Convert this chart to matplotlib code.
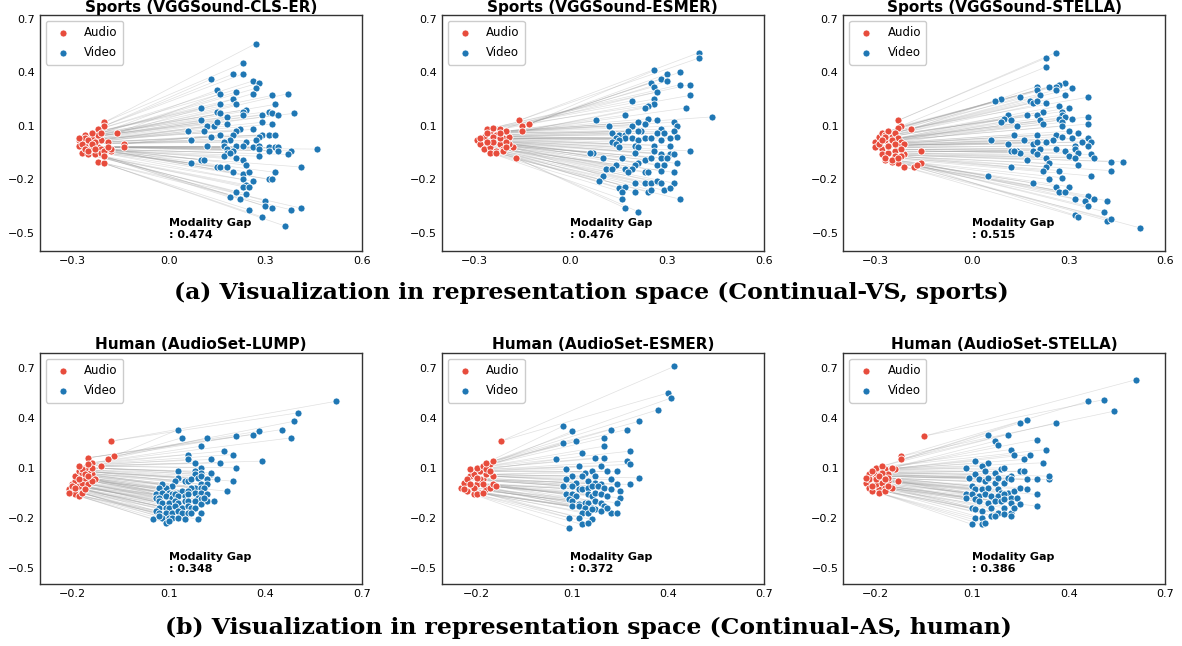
import numpy as np
import matplotlib
matplotlib.use("Agg")
import matplotlib.pyplot as plt
from matplotlib.collections import LineCollection

# ---- data ----
titles = ["Sports (VGGSound-CLS-ER)", "Sports (VGGSound-ESMER)", "Sports (VGGSound-STELLA)",
          "Human (AudioSet-LUMP)", "Human (AudioSet-ESMER)", "Human (AudioSet-STELLA)"]
gaps = ["0.474", "0.476", "0.515", "0.348", "0.372", "0.386"]
captions = ["(a) Visualization in representation space (Continual-VS, sports)",
            "(b) Visualization in representation space (Continual-AS, human)"]

sports_xticks = [-0.3, 0.0, 0.3, 0.6]
human_xticks = [-0.2, 0.1, 0.4, 0.7]
yticks = [-0.5, -0.2, 0.1, 0.4, 0.7]

# Sports / CLS-ER
cls_video_x = [0.27, 0.23, 0.20, 0.23, 0.13, 0.26, 0.28, 0.15, 0.27, 0.21,
               0.16, 0.26, 0.37, 0.32, 0.20, 0.21, 0.16, 0.33, 0.10, 0.24,
               0.23, 0.15, 0.16, 0.18, 0.23, 0.29, 0.31, 0.32, 0.34, 0.39,
               0.10, 0.29, 0.32, 0.12, 0.14, 0.15, 0.18, 0.06, 0.11, 0.22,
               0.26, 0.21, 0.29, 0.31, 0.33, 0.07, 0.13, 0.16, 0.20, 0.28,
               0.27, 0.19, 0.17, 0.24, 0.12, 0.17, 0.21, 0.23, 0.26, 0.28,
               0.31, 0.33, 0.34, 0.18, 0.18, 0.20, 0.28, 0.31, 0.34, 0.46,
               0.38, 0.37, 0.17, 0.19, 0.28, 0.07, 0.10, 0.11, 0.21, 0.23,
               0.15, 0.16, 0.18, 0.24, 0.41, 0.20, 0.23, 0.25, 0.33, 0.31,
               0.32, 0.23, 0.26, 0.24, 0.23, 0.25, 0.21, 0.24, 0.19, 0.22,
               0.30, 0.30, 0.32, 0.25, 0.38, 0.41, 0.29, 0.36]
cls_video_y = [0.56, 0.45, 0.39, 0.39, 0.36, 0.35, 0.34, 0.30, 0.31, 0.29,
               0.28, 0.28, 0.28, 0.27, 0.25, 0.22, 0.22, 0.22, 0.20, 0.19,
               0.18, 0.18, 0.17, 0.15, 0.16, 0.16, 0.18, 0.17, 0.16, 0.17,
               0.13, 0.12, 0.11, 0.10, 0.10, 0.12, 0.11, 0.07, 0.07, 0.08,
               0.08, 0.07, 0.05, 0.05, 0.05, 0.02, 0.04, 0.05, 0.05, 0.04,
               0.02, 0.02, 0.01, 0.01, -0.01, -0.01, -0.01, -0.01, -0.02, -0.01,
               -0.02, -0.02, -0.02, -0.03, -0.05, -0.04, -0.03, -0.04, -0.04, -0.03,
               -0.04, -0.06, -0.07, -0.05, -0.07, -0.11, -0.09, -0.09, -0.08, -0.09,
               -0.13, -0.13, -0.13, -0.12, -0.13, -0.16, -0.17, -0.16, -0.16, -0.20,
               -0.20, -0.20, -0.21, -0.23, -0.24, -0.24, -0.27, -0.28, -0.30, -0.31,
               -0.32, -0.35, -0.36, -0.37, -0.37, -0.36, -0.41, -0.46]
cls_audio_x = [-0.20, -0.20, -0.22, -0.16, -0.14, -0.14, -0.26, -0.24, -0.28, -0.26,
               -0.22, -0.21, -0.19, -0.28, -0.26, -0.24, -0.22, -0.21, -0.18, -0.27,
               -0.25, -0.23, -0.21, -0.20, -0.18, -0.22, -0.20, -0.20, -0.25, -0.23,
               -0.27, -0.24, -0.22, -0.26, -0.25, -0.23, -0.28, -0.24, -0.21, -0.19]
cls_audio_y = [0.12, 0.10, 0.08, 0.06, 0.00, -0.02, 0.05, 0.04, 0.02, 0.03,
               0.03, 0.02, 0.01, -0.01, -0.01, -0.02, -0.02, -0.03, -0.04, -0.05,
               -0.06, -0.06, -0.05, -0.04, -0.03, -0.10, -0.11, -0.07, 0.02, 0.01,
               0.00, 0.00, 0.05, -0.03, -0.04, -0.03, 0.03, 0.06, 0.06, -0.02]

# Sports / ESMER
esmer_s_video_x = [0.40, 0.40, 0.26, 0.30, 0.34, 0.28, 0.30, 0.25, 0.34, 0.37,
                   0.26, 0.27, 0.19, 0.26, 0.37, 0.26, 0.24, 0.23, 0.36, 0.17,
                   0.44, 0.08, 0.24, 0.27, 0.21, 0.32, 0.33, 0.12, 0.19, 0.23,
                   0.22, 0.28, 0.32, 0.13, 0.15, 0.17, 0.18, 0.21, 0.27, 0.29,
                   0.33, 0.14, 0.17, 0.19, 0.21, 0.23, 0.25, 0.28, 0.31, 0.13,
                   0.15, 0.14, 0.26, 0.20, 0.21, 0.15, 0.31, 0.07, 0.26, 0.20,
                   0.28, 0.31, 0.32, 0.37, 0.10, 0.16, 0.23, 0.25, 0.28, 0.30,
                   0.14, 0.21, 0.20, 0.27, 0.29, 0.33, 0.11, 0.13, 0.17, 0.19,
                   0.18, 0.23, 0.24, 0.28, 0.32, 0.10, 0.09, 0.20, 0.23, 0.25,
                   0.27, 0.28, 0.32, 0.15, 0.17, 0.20, 0.24, 0.25, 0.29, 0.31,
                   0.16, 0.16, 0.34, 0.17, 0.21, 0.06]
esmer_s_video_y = [0.51, 0.48, 0.41, 0.39, 0.40, 0.36, 0.35, 0.34, 0.33, 0.33,
                   0.32, 0.29, 0.24, 0.25, 0.27, 0.22, 0.21, 0.20, 0.20, 0.16,
                   0.15, 0.13, 0.14, 0.13, 0.12, 0.12, 0.10, 0.10, 0.10, 0.11,
                   0.07, 0.08, 0.07, 0.06, 0.05, 0.05, 0.07, 0.07, 0.06, 0.06,
                   0.04, 0.03, 0.03, 0.03, 0.02, 0.03, 0.03, 0.02, 0.03, 0.01,
                   0.02, 0.00, -0.01, -0.01, -0.02, -0.02, -0.01, -0.05, -0.04, -0.05,
                   -0.06, -0.06, -0.06, -0.04, -0.08, -0.08, -0.09, -0.08, -0.08, -0.08,
                   -0.12, -0.11, -0.12, -0.12, -0.12, -0.11, -0.14, -0.14, -0.14, -0.14,
                   -0.16, -0.16, -0.16, -0.15, -0.16, -0.18, -0.21, -0.22, -0.22, -0.22,
                   -0.21, -0.22, -0.22, -0.25, -0.24, -0.27, -0.27, -0.26, -0.26, -0.25,
                   -0.27, -0.31, -0.31, -0.36, -0.38, -0.05]
esmer_s_audio_x = [-0.16, -0.15, -0.13, -0.15, -0.17, -0.18,
                   -0.29, -0.28, -0.27, -0.26, -0.25, -0.24, -0.23, -0.22, -0.21, -0.20,
                   -0.19, -0.27, -0.25, -0.23, -0.21, -0.19, -0.26, -0.24, -0.22, -0.20,
                   -0.28, -0.26, -0.24, -0.22, -0.20, -0.25, -0.23, -0.21, -0.24, -0.22,
                   -0.26, -0.20]
esmer_s_audio_y = [0.13, 0.10, 0.11, 0.07, -0.08, -0.02,
                   0.02, 0.00, 0.04, -0.01, 0.06, 0.02, 0.05, 0.00, 0.03, 0.07,
                   0.04, -0.03, -0.02, -0.04, -0.03, 0.00, 0.08, 0.09, 0.08, 0.07,
                   0.03, 0.06, 0.04, 0.03, 0.01, -0.05, -0.05, -0.04, 0.01, 0.06,
                   0.01, -0.02]

# Sports / STELLA
stella_s_video_x = [0.26, 0.23, 0.23, 0.29, 0.27, 0.26, 0.24, 0.20, 0.31, 0.20,
                    0.26, 0.36, 0.29, 0.21, 0.15, 0.09, 0.07, 0.18, 0.19, 0.20,
                    0.23, 0.27, 0.30, 0.28, 0.22, 0.17, 0.20, 0.28, 0.11, 0.10,
                    0.29, 0.27, 0.36, 0.09, 0.12, 0.21, 0.22, 0.31, 0.28, 0.36,
                    0.14, 0.28, 0.30, 0.33, 0.13, 0.20, 0.26, 0.28, 0.25, 0.23,
                    0.31, 0.36, 0.37, 0.06, 0.11, 0.16, 0.19, 0.20, 0.36, 0.34,
                    0.32, 0.12, 0.14, 0.15, 0.13, 0.19, 0.21, 0.26, 0.29, 0.32,
                    0.20, 0.33, 0.37, 0.17, 0.30, 0.38, 0.23, 0.24, 0.32, 0.43,
                    0.47, 0.12, 0.33, 0.23, 0.22, 0.27, 0.43, 0.05, 0.28, 0.37,
                    0.24, 0.19, 0.26, 0.30, 0.27, 0.29, 0.36, 0.32, 0.35, 0.38,
                    0.42, 0.36, 0.41, 0.32, 0.33, 0.42, 0.43, 0.52]
stella_s_video_y = [0.51, 0.48, 0.43, 0.34, 0.33, 0.32, 0.32, 0.32, 0.31, 0.30,
                    0.30, 0.26, 0.27, 0.27, 0.26, 0.25, 0.24, 0.24, 0.23, 0.24,
                    0.23, 0.21, 0.20, 0.18, 0.18, 0.16, 0.16, 0.16, 0.16, 0.14,
                    0.15, 0.14, 0.15, 0.12, 0.13, 0.13, 0.11, 0.14, 0.12, 0.11,
                    0.10, 0.10, 0.07, 0.06, 0.05, 0.05, 0.05, 0.04, 0.02, 0.01,
                    0.03, 0.03, 0.01, 0.02, 0.00, 0.02, 0.00, 0.01, -0.01, 0.01,
                    -0.01, -0.04, -0.04, -0.05, -0.04, -0.04, -0.03, -0.03, -0.04, -0.03,
                    -0.06, -0.05, -0.06, -0.09, -0.07, -0.08, -0.08, -0.11, -0.08, -0.10,
                    -0.10, -0.13, -0.12, -0.13, -0.15, -0.15, -0.15, -0.18, -0.19, -0.18,
                    -0.20, -0.22, -0.24, -0.24, -0.27, -0.27, -0.29, -0.31, -0.32, -0.31,
                    -0.32, -0.35, -0.38, -0.40, -0.41, -0.43, -0.42, -0.47]
stella_s_audio_x = [-0.23, -0.22, -0.23, -0.19, -0.16, -0.16, -0.18, -0.17, -0.21, -0.23,
                    -0.25, -0.27, -0.21,
                    -0.30, -0.29, -0.28, -0.27, -0.26, -0.25, -0.24, -0.23, -0.22,
                    -0.29, -0.27, -0.25, -0.23, -0.21, -0.28, -0.26, -0.24, -0.22,
                    -0.30, -0.28, -0.26, -0.24, -0.22, -0.29, -0.27, -0.25, -0.23,
                    -0.27, -0.25, -0.28, -0.24, -0.26]
stella_s_audio_y = [0.13, 0.10, 0.09, 0.08, -0.04, -0.11, -0.13, -0.12, -0.13, -0.11,
                    -0.10, -0.09, -0.06,
                    0.01, 0.04, 0.06, 0.05, 0.07, 0.04, 0.06, 0.03, 0.01,
                    -0.01, 0.02, 0.01, -0.01, 0.00, -0.03, -0.02, -0.04, -0.03,
                    -0.02, -0.06, -0.05, -0.07, -0.07, 0.00, -0.08, -0.09, -0.08,
                    0.04, 0.02, 0.02, 0.00, -0.01]

# Human / LUMP
lump_video_x = [0.62, 0.50, 0.49, 0.13, 0.38, 0.36, 0.45, 0.48, 0.14, 0.22,
                0.31, 0.20, 0.27, 0.30, 0.16, 0.16, 0.23, 0.18, 0.26, 0.39,
                0.31, 0.13, 0.20, 0.18, 0.20, 0.18, 0.23, 0.23, 0.13, 0.15,
                0.16, 0.12, 0.17, 0.19, 0.20, 0.22, 0.25, 0.30, 0.20, 0.22,
                0.11, 0.09, 0.08, 0.07, 0.18, 0.17, 0.20, 0.21, 0.28, 0.06,
                0.08, 0.10, 0.11, 0.13, 0.14, 0.16, 0.18, 0.20, 0.22, 0.06,
                0.07, 0.09, 0.11, 0.12, 0.13, 0.15, 0.16, 0.19, 0.20, 0.22,
                0.24, 0.07, 0.08, 0.10, 0.12, 0.13, 0.15, 0.16, 0.18, 0.20,
                0.21, 0.07, 0.09, 0.10, 0.12, 0.14, 0.16, 0.17, 0.18, 0.06,
                0.07, 0.09, 0.11, 0.13, 0.14, 0.16, 0.17, 0.20, 0.05, 0.08,
                0.10, 0.11, 0.13, 0.15, 0.19, 0.09, 0.10, 0.07]
lump_video_y = [0.50, 0.43, 0.38, 0.33, 0.32, 0.30, 0.33, 0.28, 0.28, 0.28,
                0.29, 0.23, 0.20, 0.18, 0.18, 0.15, 0.15, 0.13, 0.13, 0.14,
                0.10, 0.08, 0.10, 0.08, 0.07, 0.06, 0.06, 0.07, 0.04, 0.02,
                0.02, 0.02, 0.03, 0.04, 0.05, 0.03, 0.03, 0.02, 0.00, 0.00,
                -0.01, -0.02, 0.00, -0.02, -0.02, -0.02, -0.02, -0.02, -0.04, -0.06,
                -0.05, -0.05, -0.06, -0.05, -0.04, -0.04, -0.05, -0.05, -0.06, -0.08,
                -0.08, -0.07, -0.08, -0.06, -0.07, -0.07, -0.06, -0.08, -0.09, -0.10,
                -0.10, -0.10, -0.11, -0.11, -0.10, -0.11, -0.10, -0.10, -0.10, -0.12,
                -0.08, -0.14, -0.14, -0.14, -0.13, -0.14, -0.13, -0.14, -0.14, -0.16,
                -0.17, -0.17, -0.17, -0.16, -0.17, -0.17, -0.17, -0.17, -0.21, -0.20,
                -0.20, -0.20, -0.20, -0.21, -0.21, -0.23, -0.22, -0.19]
lump_audio_x = [-0.08, -0.07, -0.09, -0.11, -0.15, -0.14,
                -0.21, -0.20, -0.19, -0.18, -0.17, -0.16, -0.15, -0.14, -0.13, -0.20,
                -0.19, -0.18, -0.17, -0.16, -0.15, -0.14, -0.19, -0.18, -0.17, -0.16,
                -0.15, -0.17, -0.16, -0.15, -0.14, -0.18, -0.20, -0.21, -0.19, -0.17,
                -0.16, -0.18, -0.15]
lump_audio_y = [0.26, 0.17, 0.15, 0.11, 0.16, 0.13,
                -0.03, -0.04, -0.06, -0.07, -0.03, -0.01, 0.03, 0.06, 0.03, 0.00,
                0.02, -0.01, 0.01, 0.04, 0.08, 0.10, 0.05, 0.08, 0.07, 0.10,
                0.12, 0.09, 0.06, 0.00, 0.02, 0.03, -0.01, -0.05, -0.02, -0.05,
                -0.03, 0.11, 0.05]

# Human / ESMER
esmer_h_video_x = [0.42, 0.40, 0.41, 0.37, 0.31, 0.07, 0.10, 0.22, 0.27, 0.20,
                   0.07, 0.11, 0.20, 0.13, 0.28, 0.05, 0.17, 0.20, 0.27, 0.28,
                   0.12, 0.19, 0.08, 0.16, 0.21, 0.24, 0.14, 0.10, 0.13, 0.17,
                   0.22, 0.31, 0.08, 0.11, 0.15, 0.17, 0.19, 0.24, 0.07, 0.10,
                   0.12, 0.13, 0.15, 0.16, 0.18, 0.20, 0.22, 0.28, 0.25, 0.08,
                   0.10, 0.11, 0.15, 0.16, 0.17, 0.19, 0.21, 0.25, 0.24, 0.09,
                   0.10, 0.12, 0.14, 0.15, 0.17, 0.19, 0.20, 0.22, 0.24, 0.10,
                   0.12, 0.14, 0.16, 0.17, 0.19, 0.21, 0.13, 0.15, 0.16, 0.09,
                   0.12, 0.16, 0.13, 0.15, 0.09]
esmer_h_video_y = [0.71, 0.55, 0.52, 0.45, 0.38, 0.35, 0.32, 0.33, 0.33, 0.28,
                   0.25, 0.26, 0.23, 0.19, 0.20, 0.15, 0.16, 0.16, 0.14, 0.12,
                   0.11, 0.11, 0.09, 0.08, 0.08, 0.08, 0.07, 0.05, 0.05, 0.05,
                   0.03, 0.04, 0.03, 0.01, 0.02, 0.01, 0.00, 0.00, -0.01, -0.01,
                   -0.03, -0.03, -0.02, -0.01, -0.01, -0.02, -0.03, 0.00, -0.04, -0.06,
                   -0.06, -0.07, -0.06, -0.07, -0.05, -0.06, -0.07, -0.08, -0.11, -0.09,
                   -0.10, -0.12, -0.11, -0.11, -0.10, -0.11, -0.13, -0.17, -0.17, -0.13,
                   -0.13, -0.14, -0.14, -0.15, -0.16, -0.14, -0.17, -0.17, -0.15, -0.20,
                   -0.20, -0.21, -0.24, -0.23, -0.26]
esmer_h_audio_x = [-0.125,
                   -0.25, -0.24, -0.23, -0.22, -0.21, -0.20, -0.19, -0.18, -0.17, -0.16,
                   -0.15, -0.14, -0.23, -0.21, -0.19, -0.17, -0.15, -0.22, -0.20, -0.18,
                   -0.16, -0.21, -0.19, -0.17, -0.24, -0.22, -0.20, -0.18, -0.16, -0.20,
                   -0.18, -0.17, -0.15]
esmer_h_audio_y = [0.26,
                   -0.02, 0.01, -0.04, 0.05, -0.06, 0.00, -0.05, 0.03, -0.03, -0.02,
                   0.00, -0.01, 0.03, 0.06, 0.08, 0.06, 0.05, 0.09, 0.10, 0.11,
                   0.12, -0.02, 0.03, 0.09, -0.03, 0.00, 0.04, 0.00, 0.08, -0.06,
                   -0.05, 0.13, 0.14]

# Human / STELLA
stella_h_video_x = [0.61, 0.46, 0.51, 0.54, 0.25, 0.27, 0.36, 0.15, 0.21, 0.17,
                    0.18, 0.30, 0.22, 0.33, 0.23, 0.28, 0.26, 0.32, 0.11, 0.15,
                    0.08, 0.13, 0.14, 0.19, 0.20, 0.25, 0.26, 0.22, 0.17, 0.09,
                    0.11, 0.12, 0.14, 0.15, 0.17, 0.18, 0.20, 0.21, 0.22, 0.27,
                    0.30, 0.34, 0.34, 0.10, 0.11, 0.13, 0.15, 0.18, 0.19, 0.21,
                    0.23, 0.25, 0.27, 0.08, 0.10, 0.12, 0.14, 0.16, 0.18, 0.20,
                    0.22, 0.24, 0.30, 0.08, 0.11, 0.12, 0.15, 0.17, 0.19, 0.20,
                    0.22, 0.25, 0.30, 0.10, 0.11, 0.13, 0.16, 0.18, 0.20, 0.22,
                    0.23, 0.11, 0.13, 0.16, 0.17, 0.20, 0.22, 0.10, 0.13, 0.14]
stella_h_video_y = [0.63, 0.50, 0.51, 0.44, 0.37, 0.39, 0.37, 0.30, 0.30, 0.26,
                    0.24, 0.27, 0.21, 0.21, 0.18, 0.18, 0.15, 0.13, 0.14, 0.13,
                    0.10, 0.11, 0.08, 0.09, 0.10, 0.08, 0.08, 0.05, 0.07, 0.04,
                    0.06, 0.03, 0.02, 0.04, 0.01, 0.04, 0.01, 0.04, 0.03, 0.03,
                    0.03, 0.03, 0.05, -0.01, -0.03, -0.03, -0.02, -0.03, -0.05, -0.05,
                    -0.04, -0.02, -0.03, -0.06, -0.06, -0.07, -0.06, -0.07, -0.07, -0.06,
                    -0.08, -0.08, -0.06, -0.08, -0.09, -0.10, -0.11, -0.10, -0.10, -0.09,
                    -0.11, -0.12, -0.13, -0.14, -0.15, -0.16, -0.14, -0.17, -0.14, -0.17,
                    -0.14, -0.20, -0.20, -0.19, -0.19, -0.18, -0.19, -0.24, -0.24, -0.23]
stella_h_audio_x = [-0.05, -0.12, -0.12, -0.14, -0.13, -0.15,
                    -0.23, -0.22, -0.21, -0.20, -0.19, -0.18, -0.17, -0.16, -0.22, -0.20,
                    -0.18, -0.16, -0.21, -0.19, -0.17, -0.15, -0.22, -0.20, -0.18, -0.16,
                    -0.21, -0.19, -0.17, -0.20, -0.18, -0.19, -0.17, -0.21, -0.16, -0.23]
stella_h_audio_y = [0.29, 0.17, 0.15, 0.09, 0.02, -0.02,
                    0.01, -0.02, 0.04, 0.07, -0.03, 0.05, 0.09, 0.02, 0.06, 0.00,
                    0.01, 0.06, -0.04, 0.09, -0.02, 0.10, 0.03, 0.10, 0.11, 0.04,
                    0.08, -0.05, -0.04, 0.03, 0.07, 0.05, 0.03, -0.01, -0.01, 0.04]

panels = [
    (cls_video_x, cls_video_y, cls_audio_x, cls_audio_y),
    (esmer_s_video_x, esmer_s_video_y, esmer_s_audio_x, esmer_s_audio_y),
    (stella_s_video_x, stella_s_video_y, stella_s_audio_x, stella_s_audio_y),
    (lump_video_x, lump_video_y, lump_audio_x, lump_audio_y),
    (esmer_h_video_x, esmer_h_video_y, esmer_h_audio_x, esmer_h_audio_y),
    (stella_h_video_x, stella_h_video_y, stella_h_audio_x, stella_h_audio_y),
]

AUDIO_C = "#e74c3c"
VIDEO_C = "#1f77b4"

fig = plt.figure(figsize=(11.82, 6.46), dpi=100)
W, H = 1182, 646
lefts = [40, 441.7, 843.3]

for i, (vx, vy, ax_, ay) in enumerate(panels):
    row, col = divmod(i, 3)
    if row == 0:
        rect = [lefts[col] / W, 1 - 251 / H, 322 / W, 236 / H]
    else:
        rect = [lefts[col] / W, 1 - 584.3 / H, 322 / W, 231.3 / H]
    ax = fig.add_axes(rect)

    vx, vy = np.array(vx), np.array(vy)
    ax_, ay = np.array(ax_), np.array(ay)
    n = min(len(vx), len(vy))
    vx, vy = vx[:n], vy[:n]
    na = min(len(ax_), len(ay))
    ax_, ay = ax_[:na], ay[:na]

    # pair every video point with an audio point of similar rank in y
    ov = np.argsort(vy)
    oa = np.argsort(ay)
    pick = np.round(np.linspace(0, na - 1, n)).astype(int)
    segs = []
    for k, vi in enumerate(ov):
        ai = oa[pick[k]]
        segs.append([(ax_[ai], ay[ai]), (vx[vi], vy[vi])])
    ax.add_collection(LineCollection(segs, colors="#9a9a9a", linewidths=0.5,
                                     alpha=0.3, zorder=1))

    ax.scatter(ax_, ay, s=26, c=AUDIO_C, edgecolors="white", linewidths=0.6,
               label="Audio", zorder=3)
    ax.scatter(vx, vy, s=26, c=VIDEO_C, edgecolors="white", linewidths=0.6,
               label="Video", zorder=3)

    if row == 0:
        ax.set_xlim(-0.4, 0.6)
        ax.set_ylim(-0.6, 0.72)
        ax.set_xticks(sports_xticks)
        ax.set_title(titles[i], fontsize=11, fontweight="bold", pad=1.5)
    else:
        ax.set_xlim(-0.3 if col != 1 else -0.31, 0.7)
        ax.set_ylim(-0.6, 0.79)
        ax.set_xticks(human_xticks)
        ax.set_title(titles[i], fontsize=11, fontweight="bold", pad=3)
    ax.set_yticks(yticks)
    ax.tick_params(length=0, labelsize=8, pad=3.5)
    for sp in ax.spines.values():
        sp.set_color("#333333")
        sp.set_linewidth(1.0)

    ax.legend(loc="upper left", fontsize=8.5, frameon=True, framealpha=1,
              edgecolor="#cccccc", borderpad=0.45, labelspacing=0.6,
              handletextpad=0.8)
    ax.text(0.4, 0.093, "Modality Gap\n: " + gaps[i], transform=ax.transAxes,
            fontsize=8, fontweight="bold", va="center", ha="left")

fig.text(0.5, 1 - 293 / H, captions[0], ha="center", va="center",
         fontsize=16.9, family="DejaVu Serif", fontweight="bold")
fig.text(0.498, 1 - 628 / H, captions[1], ha="center", va="center",
         fontsize=16.9, family="DejaVu Serif", fontweight="bold")

fig.savefig("out.png", dpi=100)
